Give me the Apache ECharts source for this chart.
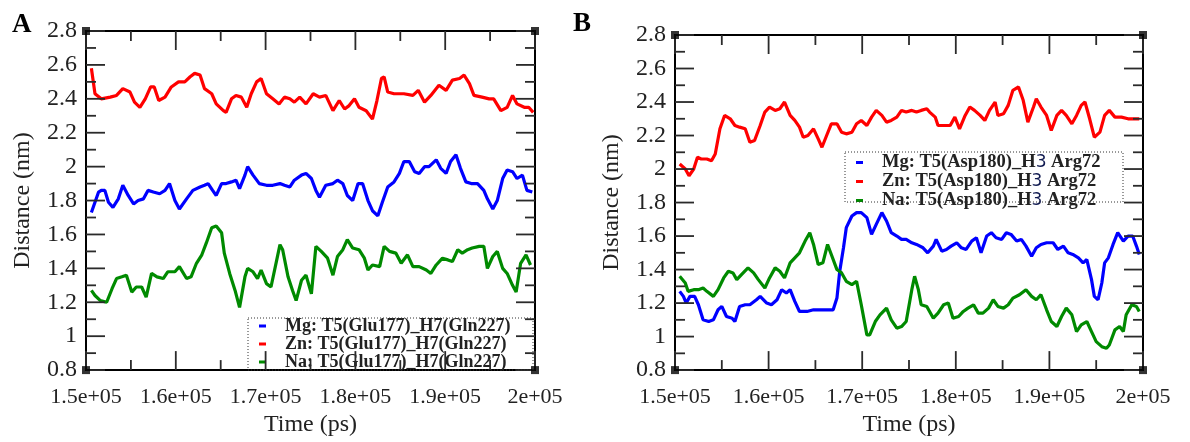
<!DOCTYPE html>
<html><head><meta charset="utf-8">
<script src="https://cdn.jsdelivr.net/npm/echarts/dist/echarts.min.js"></script>
<style>html,body{margin:0;padding:0;background:#fff}#c{width:1190px;height:442px}</style>
</head><body><div id="c"></div>
<script>
// ---- data (time in ps, distance in nm) ----
const timeMin = 150000, timeMax = 200000, timeStep = 10000;
const distMin = 0.8, distMax = 2.8, distStep = 0.2;
const xMajorTicks = [150000, 160000, 170000, 180000, 190000, 200000];
const xMinorTicks = [155000, 165000, 175000, 185000, 195000];
const yMajorTicks = [0.8, 1.0, 1.2, 1.4, 1.6, 1.8, 2.0, 2.2, 2.4, 2.6, 2.8];
const yMinorTicks = [0.9, 1.1, 1.3, 1.5, 1.7, 1.9, 2.1, 2.3, 2.5, 2.7];
const namesA = ['Mg: T5(Glu177)_H7(Gln227)', 'Zn: T5(Glu177)_H7(Gln227)', 'Na: T5(Glu177)_H7(Gln227)'];
const namesB = ['Mg: T5(Asp180)_H3 Arg72', 'Zn: T5(Asp180)_H3 Arg72', 'Na: T5(Asp180)_H3 Arg72'];
const panelLabels = ['A', 'B'];
const axisNames = { x: 'Time (ps)', y: 'Distance (nm)' };

const mgA = [[150600,1.73],[151000,1.79],[151400,1.85],[151700,1.86],[152100,1.86],[152500,1.79],[153000,1.76],[153600,1.81],[154100,1.89],[154700,1.83],[155300,1.78],[155800,1.80],[156400,1.81],[156900,1.86],[157500,1.85],[158200,1.84],[158800,1.86],[159300,1.90],[159900,1.80],[160400,1.75],[161200,1.81],[161900,1.86],[162700,1.88],[163200,1.89],[163600,1.90],[164100,1.86],[164500,1.83],[165100,1.90],[165600,1.90],[166200,1.91],[166700,1.92],[167100,1.87],[167700,1.95],[168000,2.00],[168600,1.95],[169300,1.90],[170100,1.89],[170800,1.89],[171600,1.90],[172100,1.89],[172700,1.88],[173200,1.92],[174000,1.95],[174500,1.96],[175100,1.93],[175600,1.86],[176000,1.82],[176700,1.89],[177500,1.90],[178000,1.92],[178600,1.90],[179100,1.83],[179700,1.80],[180300,1.90],[180800,1.90],[181400,1.80],[181900,1.74],[182500,1.71],[183000,1.79],[183600,1.88],[184300,1.91],[184900,1.96],[185400,2.03],[186000,2.03],[186600,1.97],[187100,1.96],[187700,2.00],[188200,2.00],[189000,2.04],[189500,1.99],[190100,1.96],[190600,2.03],[191200,2.07],[191700,1.99],[192300,1.91],[192900,1.90],[193600,1.90],[194300,1.86],[194700,1.81],[195300,1.75],[195800,1.80],[196400,1.93],[196900,1.98],[197500,1.97],[198000,1.93],[198600,1.95],[199100,1.86],[199700,1.85]];
const znA = [[150600,2.58],[151000,2.43],[151700,2.40],[152700,2.41],[153400,2.42],[154100,2.46],[154900,2.44],[155400,2.38],[156000,2.35],[156600,2.40],[157200,2.47],[157600,2.47],[158100,2.39],[158800,2.41],[159500,2.47],[160300,2.50],[161000,2.50],[161600,2.53],[162100,2.55],[162700,2.54],[163200,2.46],[164000,2.43],[164500,2.37],[165300,2.33],[165600,2.32],[166200,2.40],[166700,2.42],[167300,2.41],[167900,2.35],[168400,2.43],[169000,2.50],[169500,2.52],[170100,2.43],[170800,2.40],[171500,2.37],[172100,2.41],[172700,2.40],[173200,2.38],[173800,2.41],[174500,2.37],[175300,2.43],[176000,2.41],[176700,2.42],[177500,2.33],[178200,2.39],[178800,2.34],[179300,2.36],[179900,2.40],[180400,2.35],[181200,2.33],[181900,2.28],[182400,2.39],[182900,2.52],[183200,2.53],[183600,2.44],[184300,2.43],[185400,2.43],[186400,2.42],[187000,2.45],[187700,2.38],[188400,2.42],[189300,2.48],[190100,2.45],[190800,2.51],[191600,2.52],[192100,2.54],[192700,2.49],[193200,2.42],[194100,2.41],[194900,2.40],[195400,2.40],[196200,2.33],[196900,2.35],[197500,2.42],[198000,2.37],[198800,2.35],[199300,2.35],[199800,2.32]];
const naA = [[150600,1.27],[151000,1.24],[151600,1.21],[152300,1.20],[152900,1.28],[153400,1.34],[154000,1.35],[154500,1.36],[155100,1.26],[155600,1.29],[156200,1.29],[156700,1.23],[157300,1.37],[157900,1.35],[158600,1.34],[159100,1.38],[159900,1.38],[160400,1.41],[161200,1.34],[161700,1.35],[162300,1.43],[162900,1.48],[163400,1.55],[164000,1.64],[164500,1.65],[165100,1.61],[165400,1.49],[166000,1.37],[166600,1.27],[167100,1.17],[167700,1.35],[168000,1.40],[168600,1.38],[169100,1.34],[169500,1.39],[170100,1.31],[170600,1.29],[171200,1.44],[171600,1.54],[171900,1.51],[172500,1.35],[173000,1.27],[173400,1.21],[174000,1.33],[174500,1.36],[175100,1.25],[175600,1.53],[176200,1.50],[176900,1.46],[177500,1.36],[178000,1.47],[178600,1.51],[179100,1.57],[179700,1.52],[180400,1.51],[181000,1.46],[181400,1.39],[181900,1.42],[182700,1.41],[183200,1.53],[183800,1.50],[184500,1.49],[185100,1.43],[185800,1.48],[186400,1.41],[187100,1.41],[187900,1.39],[188400,1.37],[189000,1.42],[189700,1.46],[190300,1.45],[190800,1.44],[191400,1.51],[191900,1.49],[192500,1.51],[193000,1.52],[193800,1.53],[194300,1.53],[194700,1.40],[195300,1.47],[195800,1.50],[196400,1.40],[196900,1.37],[197500,1.30],[197900,1.26],[198400,1.43],[199000,1.48],[199500,1.42]];

const mgB = [[150500,1.27],[150900,1.24],[151200,1.20],[151600,1.24],[152100,1.24],[152500,1.19],[153000,1.10],[153600,1.09],[154100,1.10],[154600,1.16],[155000,1.18],[155500,1.12],[156100,1.11],[156400,1.09],[156900,1.18],[157500,1.19],[158000,1.19],[158700,1.22],[159100,1.24],[159800,1.20],[160300,1.19],[160900,1.22],[161400,1.28],[161900,1.26],[162300,1.28],[162800,1.21],[163300,1.15],[164100,1.15],[164800,1.16],[165500,1.16],[166200,1.16],[166900,1.16],[167300,1.23],[167600,1.39],[168000,1.53],[168300,1.65],[168900,1.72],[169400,1.74],[169900,1.74],[170500,1.71],[171000,1.61],[171500,1.67],[172100,1.74],[172600,1.69],[173100,1.62],[173700,1.60],[174200,1.58],[174700,1.58],[175300,1.56],[175800,1.55],[176500,1.53],[177000,1.50],[177600,1.54],[177900,1.58],[178500,1.51],[179000,1.52],[179500,1.54],[180100,1.56],[180600,1.53],[181100,1.52],[181700,1.57],[182200,1.59],[182700,1.50],[183300,1.60],[183800,1.62],[184300,1.59],[184900,1.58],[185400,1.62],[185900,1.61],[186500,1.57],[187000,1.58],[187500,1.54],[188100,1.48],[188600,1.53],[189100,1.55],[189700,1.56],[190400,1.56],[190900,1.52],[191500,1.54],[192000,1.50],[192500,1.49],[193100,1.47],[193600,1.44],[194000,1.46],[194500,1.34],[194800,1.24],[195200,1.22],[195600,1.32],[195900,1.44],[196300,1.47],[196800,1.55],[197300,1.62],[197900,1.57],[198400,1.60],[198900,1.60],[199300,1.54],[199600,1.49]];
const znB = [[150500,2.03],[151100,2.00],[151500,1.96],[152000,2.00],[152400,2.07],[152800,2.06],[153400,2.06],[153900,2.05],[154300,2.09],[154800,2.24],[155300,2.32],[155900,2.30],[156400,2.26],[156900,2.25],[157500,2.24],[158000,2.16],[158500,2.17],[159100,2.26],[159600,2.34],[160100,2.37],[160700,2.35],[161200,2.36],[161700,2.40],[162300,2.32],[162800,2.29],[163300,2.25],[163700,2.19],[164200,2.20],[164800,2.24],[165300,2.18],[165700,2.13],[166200,2.20],[166700,2.27],[167300,2.27],[167800,2.22],[168300,2.21],[168900,2.22],[169400,2.27],[169900,2.29],[170500,2.26],[171000,2.31],[171500,2.35],[172100,2.32],[172600,2.28],[173100,2.29],[173700,2.31],[174200,2.35],[174700,2.34],[175300,2.35],[175800,2.34],[176300,2.35],[176900,2.36],[177200,2.34],[177800,2.31],[178100,2.26],[178800,2.26],[179400,2.26],[179900,2.31],[180400,2.24],[181000,2.32],[181500,2.37],[182000,2.35],[182600,2.32],[183100,2.29],[183600,2.35],[184200,2.40],[184500,2.32],[185100,2.33],[185600,2.38],[186100,2.47],[186700,2.49],[187200,2.41],[187700,2.28],[188300,2.37],[188600,2.42],[189100,2.37],[189700,2.32],[190200,2.23],[190800,2.32],[191300,2.35],[191800,2.32],[192400,2.27],[192900,2.32],[193400,2.38],[193800,2.40],[194300,2.30],[194800,2.19],[195400,2.22],[195900,2.32],[196400,2.35],[197000,2.31],[197700,2.31],[198400,2.30],[199100,2.30],[199600,2.30]];
const naB = [[150500,1.36],[151100,1.32],[151400,1.27],[152000,1.28],[152500,1.28],[153000,1.29],[153400,1.27],[154100,1.24],[154600,1.28],[155200,1.35],[155700,1.39],[156200,1.38],[156600,1.34],[157100,1.37],[157800,1.41],[158400,1.38],[158900,1.34],[159600,1.29],[160100,1.35],[160700,1.41],[161200,1.39],[161700,1.35],[162300,1.44],[162800,1.47],[163300,1.50],[163900,1.57],[164400,1.62],[164800,1.55],[165300,1.43],[165800,1.44],[166300,1.55],[166700,1.49],[167300,1.40],[167800,1.38],[168300,1.33],[168900,1.31],[169400,1.33],[169900,1.19],[170500,1.01],[170800,1.01],[171400,1.09],[171900,1.13],[172600,1.17],[173100,1.10],[173700,1.05],[174200,1.06],[174700,1.09],[175300,1.28],[175600,1.36],[176000,1.28],[176300,1.19],[176900,1.18],[177600,1.11],[178100,1.14],[178700,1.19],[179200,1.20],[179700,1.11],[180300,1.12],[180800,1.15],[181300,1.17],[181900,1.19],[182400,1.14],[182900,1.14],[183500,1.17],[184000,1.22],[184500,1.18],[185100,1.17],[185600,1.19],[186100,1.23],[186800,1.25],[187500,1.28],[188100,1.24],[188600,1.22],[189100,1.25],[189700,1.16],[190200,1.09],[190800,1.06],[191300,1.12],[191800,1.17],[192400,1.13],[192900,1.03],[193400,1.07],[194000,1.09],[194500,1.03],[195000,0.97],[195600,0.94],[196100,0.93],[196400,0.95],[197000,1.04],[197500,1.06],[197900,1.03],[198200,1.13],[198800,1.19],[199300,1.18],[199600,1.15]];

const colors = { mg: '#0000ff', zn: '#ff0000', na: '#008a00' };

// ---- chart ----
const serif = '"Liberation Serif","Times New Roman",serif';
const fmtTime = v => (+(v / 1e5).toFixed(2)) + 'e+05';
const fmtDist = v => String(+v.toFixed(1));
const grids = [
  { left: 86, top: 31, width: 449, height: 351 },
  { left: 675, top: 35, width: 468, height: 348 }
];
const MAJOR = 19, MINOR = 10;

function xAx(g, pos) {
  const main = pos === 'bottom';
  return {
    gridIndex: g, type: 'value', min: timeMin, max: timeMax, interval: timeStep, position: pos,
    axisLine: { show: true, onZero: false, lineStyle: { color: '#000', width: 2 } },
    axisTick: { show: false }, minorTick: { show: false },
    splitLine: { show: false }, minorSplitLine: { show: false },
    axisLabel: { show: main, margin: 16, fontFamily: serif, fontSize: 22, color: '#222', formatter: fmtTime },
    name: main ? axisNames.x : '', nameLocation: 'middle', nameGap: 42,
    nameTextStyle: { fontFamily: serif, fontSize: 24, color: '#222' }
  };
}
function yAx(g, pos) {
  const main = pos === 'left';
  return {
    gridIndex: g, type: 'value', min: distMin, max: distMax, interval: distStep, position: pos,
    axisLine: { show: true, onZero: false, lineStyle: { color: '#000', width: 2 } },
    axisTick: { show: false }, minorTick: { show: false },
    splitLine: { show: false }, minorSplitLine: { show: false },
    axisLabel: { show: main, margin: 9, fontFamily: serif, fontSize: 24, color: '#222', formatter: fmtDist },
    name: main ? axisNames.y : '', nameLocation: 'middle', nameGap: 51,
    nameTextStyle: { fontFamily: serif, fontSize: 24, color: '#222' }
  };
}

// inward ticks on all four sides, placed through the axes' own scales
function tickSeries(axIdx, vals, len, isX) {
  return {
    type: 'custom', coordinateSystem: 'cartesian2d', xAxisIndex: axIdx, yAxisIndex: axIdx,
    clip: false, silent: true, z: 20,
    data: vals.map(v => [isX ? v : timeMin, isX ? distMin : v]),
    renderItem: function (params, api) {
      const st = { stroke: '#2a2a2a', lineWidth: 1.8, fill: null };
      if (isX) {
        const v = api.value(0);
        const b = api.coord([v, distMin]), t = api.coord([v, distMax]);
        return { type: 'group', children: [
          { type: 'line', shape: { x1: b[0], y1: b[1], x2: b[0], y2: b[1] - len }, style: st },
          { type: 'line', shape: { x1: t[0], y1: t[1], x2: t[0], y2: t[1] + len }, style: st }
        ] };
      }
      const v = api.value(1);
      const l = api.coord([timeMin, v]), r = api.coord([timeMax, v]);
      return { type: 'group', children: [
        { type: 'line', shape: { x1: l[0], y1: l[1], x2: l[0] + len, y2: l[1] }, style: st },
        { type: 'line', shape: { x1: r[0], y1: r[1], x2: r[0] - len, y2: r[1] }, style: st }
      ] };
    }
  };
}

function line(name, data, color, axIdx) {
  return {
    type: 'line', name, data, xAxisIndex: axIdx, yAxisIndex: axIdx,
    showSymbol: false, symbol: 'none', smooth: false,
    lineStyle: { color, width: 3.2 }, itemStyle: { color }, z: 3
  };
}
function corners(axIdx) {
  return {
    type: 'scatter', xAxisIndex: axIdx, yAxisIndex: axIdx, clip: false, silent: true,
    symbol: 'rect', symbolSize: 8, itemStyle: { color: '#000' }, z: 30,
    data: [[timeMin, distMin], [timeMax, distMin], [timeMin, distMax], [timeMax, distMax]]
  };
}

const legendBase = {
  orient: 'vertical', icon: 'rect', itemWidth: 7, itemHeight: 3, selectedMode: false, padding: 0,
  textStyle: { fontFamily: serif, fontWeight: 'bold', fontSize: 18, color: '#222', padding: [0, 0, 0, 14],
    rich: { t: { fontFamily: '"DejaVu Sans",sans-serif', fontSize: 17, fontWeight: 'normal', color: '#101a50' } } }
};

const option = {
  animation: false,
  backgroundColor: '#fff',
  title: [
    { text: panelLabels[0], left: 7, top: 7, textStyle: { fontFamily: serif, fontWeight: 'bold', fontSize: 27, color: '#000' } },
    { text: panelLabels[1], left: 568, top: 6, textStyle: { fontFamily: serif, fontWeight: 'bold', fontSize: 27, color: '#000' } }
  ],
  grid: grids,
  xAxis: [xAx(0, 'bottom'), xAx(0, 'top'), xAx(1, 'bottom'), xAx(1, 'top')],
  yAxis: [yAx(0, 'left'), yAx(0, 'right'), yAx(1, 'left'), yAx(1, 'right')],
  legend: [
    Object.assign({}, legendBase, { data: namesA, left: 259, top: 317, itemGap: 0,
      textStyle: Object.assign({}, legendBase.textStyle, { lineHeight: 17 }) }),
    Object.assign({}, legendBase, { data: namesB, left: 856, top: 153, itemGap: 0,
      textStyle: Object.assign({}, legendBase.textStyle, { fontSize: 18.5, lineHeight: 15 }),
      formatter: n => n.replace('_H3 ', '_H{t|3} ') })
  ],
  graphic: [
    { type: 'rect', shape: { x: 248, y: 318, width: 285, height: 52 }, style: { fill: 'none', stroke: '#333', lineWidth: 1, lineDash: [1, 2] }, z: 100 },
    { type: 'rect', shape: { x: 845, y: 152, width: 278, height: 50 }, style: { fill: 'none', stroke: '#333', lineWidth: 1, lineDash: [1, 2] }, z: 100 }
  ],
  series: [
    line(namesA[1], znA, colors.zn, 0),
    line(namesA[0], mgA, colors.mg, 0),
    line(namesA[2], naA, colors.na, 0),
    line(namesB[1], znB, colors.zn, 2),
    line(namesB[0], mgB, colors.mg, 2),
    line(namesB[2], naB, colors.na, 2),
    tickSeries(0, xMajorTicks, MAJOR, true), tickSeries(0, xMinorTicks, MINOR, true),
    tickSeries(0, yMajorTicks, MAJOR, false), tickSeries(0, yMinorTicks, MINOR, false),
    tickSeries(2, xMajorTicks, MAJOR, true), tickSeries(2, xMinorTicks, MINOR, true),
    tickSeries(2, yMajorTicks, MAJOR, false), tickSeries(2, yMinorTicks, MINOR, false),
    corners(0), corners(2)
  ]
};

const chart = echarts.init(document.getElementById('c'), null, { renderer: 'canvas' });
chart.setOption(option);
</script>
</body></html>
